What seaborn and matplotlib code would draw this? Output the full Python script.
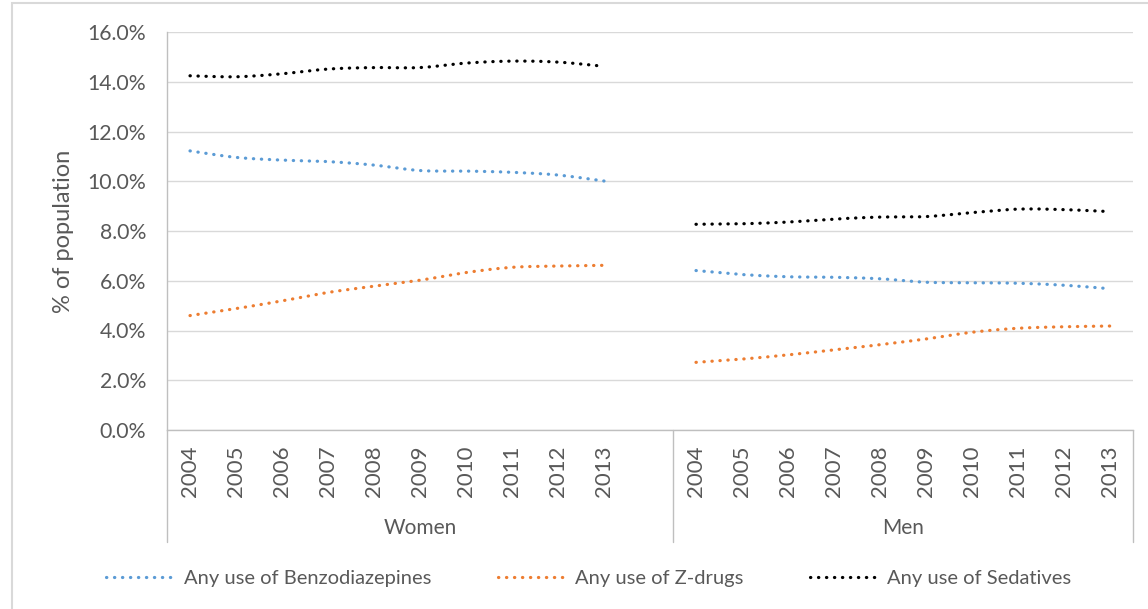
import numpy as np
import pandas as pd
import matplotlib
matplotlib.use("Agg")
import matplotlib.pyplot as plt
import matplotlib.transforms as mtransforms
from matplotlib.lines import Line2D
from matplotlib.patches import Rectangle
import seaborn as sns

# ---- data (% of population) ----
years = ["2004", "2005", "2006", "2007", "2008", "2009", "2010", "2011", "2012", "2013"]
groups = ["Women", "Men"]
series_names = ["Any use of Benzodiazepines", "Any use of Z-drugs", "Any use of Sedatives"]

benzo_women = [11.22, 10.96, 10.85, 10.79, 10.65, 10.43, 10.41, 10.36, 10.25, 10.01]
zdrug_women = [4.60, 4.88, 5.19, 5.53, 5.78, 6.02, 6.33, 6.54, 6.59, 6.62]
sedat_women = [14.24, 14.20, 14.32, 14.51, 14.57, 14.57, 14.75, 14.83, 14.79, 14.62]

benzo_men = [6.41, 6.25, 6.16, 6.14, 6.08, 5.94, 5.92, 5.90, 5.82, 5.68]
zdrug_men = [2.72, 2.85, 3.02, 3.22, 3.43, 3.66, 3.93, 4.09, 4.15, 4.18]
sedat_men = [8.27, 8.29, 8.36, 8.48, 8.56, 8.58, 8.74, 8.88, 8.86, 8.78]

values = {
    ("Women", series_names[0]): benzo_women,
    ("Women", series_names[1]): zdrug_women,
    ("Women", series_names[2]): sedat_women,
    ("Men", series_names[0]): benzo_men,
    ("Men", series_names[1]): zdrug_men,
    ("Men", series_names[2]): sedat_men,
}
colors = {series_names[0]: "#5B9BD5", series_names[1]: "#ED7D31", series_names[2]: "#000000"}

TEXT = "#595959"
AXIS = "#bfbfbf"
GRID = "#d9d9d9"


def smooth_curve(x, y, n=24):
    """Bezier smoothing through the points (control points from neighbours)."""
    x = np.asarray(x, float)
    y = np.asarray(y, float)
    px = np.concatenate([[x[0]], x, [x[-1]]])
    py = np.concatenate([[y[0]], y, [y[-1]]])
    xs, ys = [], []
    t = np.linspace(0, 1, n, endpoint=False)[:, None]
    for i in range(1, len(px) - 2):
        p0 = np.array([px[i - 1], py[i - 1]])
        p1 = np.array([px[i], py[i]])
        p2 = np.array([px[i + 1], py[i + 1]])
        p3 = np.array([px[i + 2], py[i + 2]])
        c1 = p1 + (p2 - p0) / 6.0
        c2 = p2 - (p3 - p1) / 6.0
        b = ((1 - t) ** 3) * p1 + 3 * ((1 - t) ** 2) * t * c1 + 3 * (1 - t) * t ** 2 * c2 + t ** 3 * p2
        xs.extend(b[:, 0])
        ys.extend(b[:, 1])
    xs.append(x[-1])
    ys.append(y[-1])
    return xs, ys


# category slots: each group's years, with one empty slot between groups
rows = []
for (grp, name), vals in values.items():
    gi = groups.index(grp)
    pos = [gi * (len(years) + 1) + k for k in range(len(years))]
    sx, sy = smooth_curve(pos, vals)
    for a, b in zip(sx, sy):
        rows.append({"x": a, "y": b, "series": name, "segment": f"{grp}-{name}"})
df = pd.DataFrame(rows)

sns.set_theme(style="white")
plt.rcParams["font.family"] = ["Lato", "DejaVu Sans"]

fig = plt.figure(figsize=(11.48, 6.09), dpi=100)
W, H = 1148, 609
ax = fig.add_axes([167 / W, 1 - 430 / H, 966 / W, 398 / H])

dotted = (0, (0.1, 2.4))
sns.lineplot(data=df, x="x", y="y", hue="series", units="segment", estimator=None,
             sort=False, palette=colors, hue_order=series_names, legend=False,
             linewidth=2.3, linestyle=dotted, dash_capstyle="round", ax=ax)

n_slots = len(groups) * len(years) + (len(groups) - 1)
ax.set_xlim(-0.5, n_slots - 0.5)
ax.set_ylim(0, 16)
ax.set_yticks(np.arange(0, 16.1, 2))
ax.set_yticklabels([f"{v:.1f}%" for v in np.arange(0, 16.1, 2)])
ax.yaxis.grid(True, color=GRID, linewidth=1.0)
ax.xaxis.grid(False)
ax.set_axisbelow(True)

tick_pos, tick_lab = [], []
for gi, grp in enumerate(groups):
    for k, yr in enumerate(years):
        tick_pos.append(gi * (len(years) + 1) + k)
        tick_lab.append(yr)
ax.set_xticks(tick_pos)
ax.set_xticklabels(tick_lab, rotation=90)

ax.tick_params(axis="y", length=0, pad=15, labelsize=15.3, labelcolor=TEXT)
ax.tick_params(axis="x", length=0, pad=11, labelsize=16, labelcolor=TEXT)
ax.set_xlabel("")
ax.set_ylabel("% of population", fontsize=17, color=TEXT, labelpad=10)

for s in ["top", "right"]:
    ax.spines[s].set_visible(False)
for s in ["left", "bottom"]:
    ax.spines[s].set_color(AXIS)
    ax.spines[s].set_linewidth(1.0)

# group dividers and group labels under the year labels
trans = mtransforms.blended_transform_factory(ax.transData, ax.transAxes)
depth = -112 / 398
bounds = [-0.5] + [gi * (len(years) + 1) + len(years) - 0.5 + (1 if gi < len(groups) - 1 else 0)
                   for gi in range(len(groups))]
for xv in bounds:
    ax.plot([xv, xv], [0, depth], transform=trans, clip_on=False, color=AXIS, linewidth=1.0)
for gi, grp in enumerate(groups):
    lo = bounds[gi]
    hi = bounds[gi + 1]
    ax.text((lo + hi) / 2, -98 / 398, grp, transform=trans, ha="center", va="center",
            fontsize=15, color=TEXT)

# chart frame
fig.patches.append(Rectangle((12 / W, -0.1), 1.2, 1.1 - 3 / H, transform=fig.transFigure,
                             fill=False, edgecolor=GRID, linewidth=1.5))

handles = [Line2D([0], [0], color=colors[n], linewidth=2.3, linestyle=dotted,
                  dash_capstyle="round") for n in series_names]
leg = fig.legend(handles, series_names, loc="center", bbox_to_anchor=(0.513, 1 - 578 / H),
                 ncol=3, frameon=False, handlelength=3.25, columnspacing=3.3,
                 handletextpad=0.6, fontsize=14.5)
for t in leg.get_texts():
    t.set_color(TEXT)

fig.savefig("out.png", dpi=100, facecolor="white")
